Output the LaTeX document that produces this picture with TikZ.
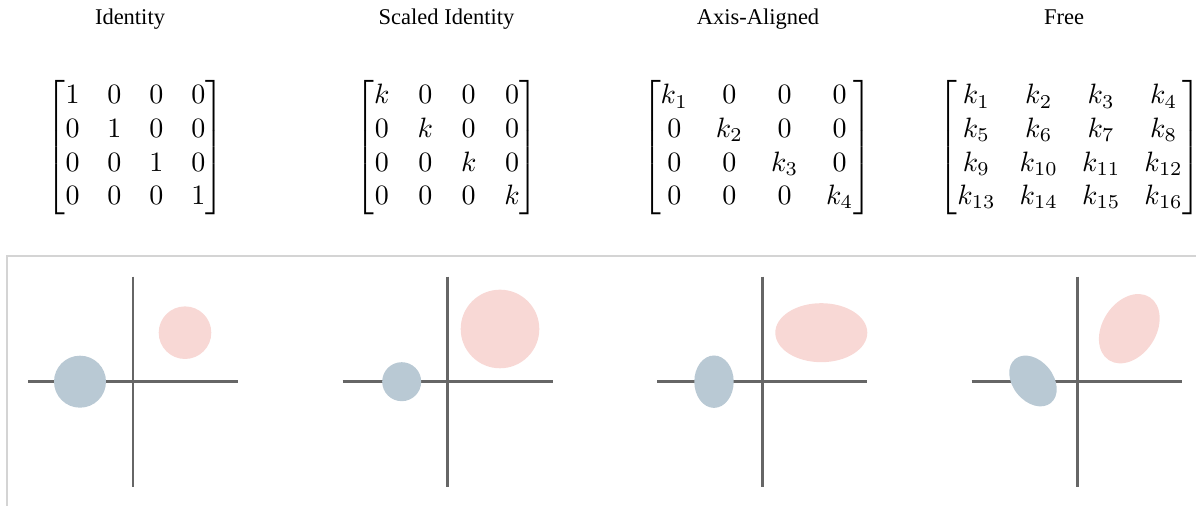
\documentclass[tikz,border=0pt]{standalone}
\usepackage{amsmath}
\usepackage{graphicx}
\usepackage{fontspec}
\newfontfamily\titlefont{Liberation Serif}
\definecolor{blueblob}{HTML}{B9C9D4}
\definecolor{pinkblob}{HTML}{F8D8D5}
\definecolor{axisgray}{HTML}{666666}
\definecolor{framegray}{HTML}{D4D4D4}
\tikzset{
  title/.style={anchor=base, inner sep=0pt, font=\titlefont\fontsize{11.25}{13}\selectfont},
  mat/.style={anchor=center, inner sep=0pt},
  axis/.style={draw=axisgray, line width=1.4pt},
  frameline/.style={draw=framegray, line width=0.7pt},
  cold/.style={fill=blueblob},
  warm/.style={fill=pinkblob}
}
\newcommand{\bigmat}[1]{\scalebox{1.4}{$\begin{bmatrix}#1\end{bmatrix}$}}
\newcommand{\tightmat}[1]{\scalebox{1.4}{\setlength{\arraycolsep}{4.3pt}$\begin{bmatrix}#1\end{bmatrix}$}}
\begin{document}
\begin{tikzpicture}[x=0.5pt, y=0.5pt]
\useasboundingbox (0,0) rectangle (1196,506);

% column titles
\node[title] (t1) at (130,481) {Identity};
\node[title] (t2) at (446.5,481) {Scaled Identity};
\node[title] (t3) at (758,481) {Axis-Aligned};
\node[title] (t4) at (1064,481) {Free};

% matrices
\node[mat] (m1) at (135.5,358.5) {\bigmat{1&0&0&0\\0&1&0&0\\0&0&1&0\\0&0&0&1}};
\node[mat] (m2) at (447,358.5) {\bigmat{k&0&0&0\\0&k&0&0\\0&0&k&0\\0&0&0&k}};
\node[mat] (m3) at (757,358.5) {\bigmat{k_1&0&0&0\\0&k_2&0&0\\0&0&k_3&0\\0&0&0&k_4}};
\node[mat] (m4) at (1070,358.5) {\tightmat{k_1&k_2&k_3&k_4\\k_5&k_6&k_7&k_8\\k_9&k_{10}&k_{11}&k_{12}\\k_{13}&k_{14}&k_{15}&k_{16}}};

% frame of the lower panel
\draw[frameline] (1196,250) -- (7,250) -- (7,0);

% axes
\foreach \cx/\lx in {133/28, 447.3/342.7, 762.7/657.3, 1077.3/971.7} {
  \draw[axis] (\lx,124.3) -- ++(210,0);
  \draw[axis] (\cx,229.3) -- (\cx,19.3);
}

% identity
\fill[cold] (80,124.3) circle[radius=26];
\fill[warm] (185,173.3) circle[radius=26.3];
% scaled identity
\fill[cold] (401.7,124.3) circle[radius=19.5];
\fill[warm] (500,177) circle[radius=39.3];
% axis-aligned
\fill[cold] (714,124.3) ellipse[x radius=19.7, y radius=26.2];
\fill[warm] (821.3,173.3) ellipse[x radius=46, y radius=29.5];
% free
\fill[cold, shift={(1033,125)}, rotate=-51] (0,0) ellipse[x radius=28.3, y radius=20.2];
\fill[warm, shift={(1129.3,177.3)}, rotate=57] (0,0) ellipse[x radius=37.5, y radius=26.8];
\end{tikzpicture}
\end{document}
